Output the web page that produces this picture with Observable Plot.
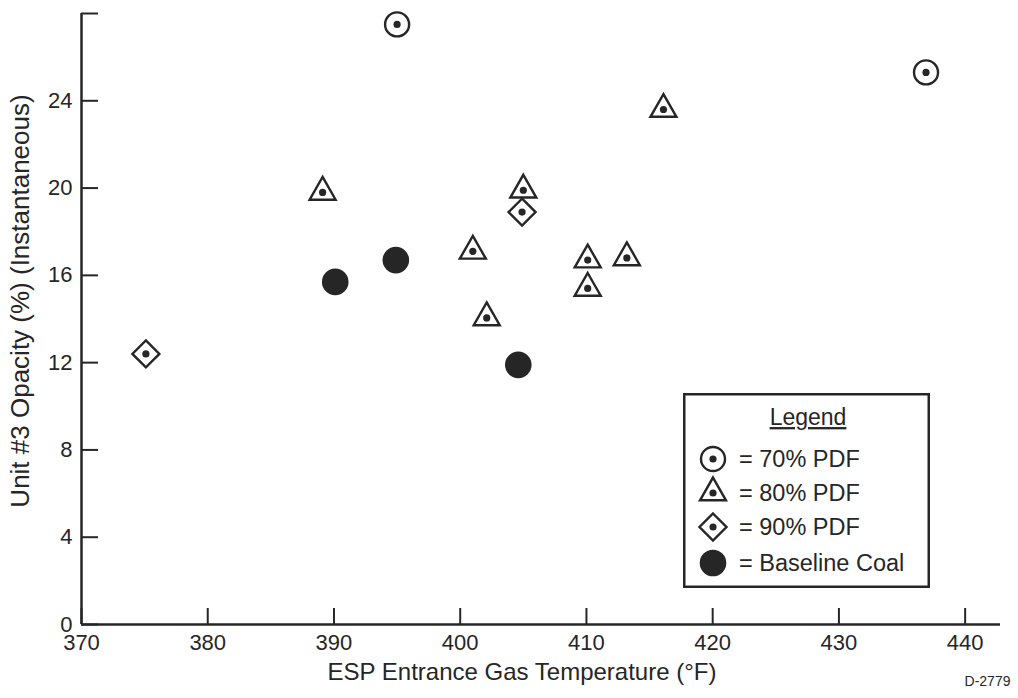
<!DOCTYPE html>
<html>
<head>
<meta charset="utf-8">
<script src="https://cdn.jsdelivr.net/npm/d3@7"></script>
<script src="https://cdn.jsdelivr.net/npm/@observablehq/plot@0.6"></script>
<style>
  html, body { margin: 0; padding: 0; background: #fff; }
  #chart { width: 1018px; height: 698px; position: relative; }
</style>
</head>
<body>
<div id="chart"></div>
<script>
// ---- data ----
const pdf70X = [395.0, 436.9];
const pdf70Y = [27.5, 25.3];
const pdf80X = [389.1, 401.0, 402.1, 405.0, 410.1, 410.1, 413.2, 416.1];
const pdf80Y = [19.8, 17.1, 14.05, 19.9, 16.7, 15.4, 16.8, 23.6];
const pdf90X = [375.1, 404.9];
const pdf90Y = [12.4, 18.9];
const baseX = [390.1, 394.9, 404.6];
const baseY = [15.7, 16.7, 11.9];

const xTicks = [370, 380, 390, 400, 410, 420, 430, 440];
const yTicks = [0, 4, 8, 12, 16, 20, 24, 28];
const yTickLabels = ["0", "4", "8", "12", "16", "20", "24", ""];

const xLabel = "ESP Entrance Gas Temperature (°F)";
const yLabel = "Unit #3 Opacity (%) (Instantaneous)";
const figId = "D-2779";
const legendTitle = "Legend";
const legendLabels = ["= 70% PDF", "= 80% PDF", "= 90% PDF", "= Baseline Coal"];

// ---- build tables ----
const toRows = (xs, ys) => xs.map((x, i) => ({x, y: ys[i]}));
const rows70 = toRows(pdf70X, pdf70Y);
const rows80 = toRows(pdf80X, pdf80Y);
const rows90 = toRows(pdf90X, pdf90Y);
const rowsBase = toRows(baseX, baseY);
const openRows = [...rows70, ...rows80, ...rows90];

// ---- custom symbols ----
const triangleSym = {
  draw(ctx, size) {
    const r = Math.sqrt(size / Math.PI);
    ctx.moveTo(0, -1.19 * r);
    ctx.lineTo(1.0 * r, 0.56 * r);
    ctx.lineTo(-1.0 * r, 0.56 * r);
    ctx.closePath();
  }
};
const diamondSym = {
  draw(ctx, size) {
    const r = Math.sqrt(size / Math.PI);
    ctx.moveTo(0, -r);
    ctx.lineTo(r, 0);
    ctx.lineTo(0, r);
    ctx.lineTo(-r, 0);
    ctx.closePath();
  }
};

const ink = "#262626";
const sw = 2.4;
const font = "'Liberation Sans', Arial, Helvetica, sans-serif";

const plot = Plot.plot({
  width: 1018,
  height: 698,
  marginLeft: 81,
  marginRight: 18,
  marginTop: 13,
  marginBottom: 74,
  x: {domain: [370, 442.8]},
  y: {domain: [0, 28]},
  style: {fontFamily: font, background: "#fff", color: ink},
  marks: [
    Plot.axisX({ticks: xTicks, tickSize: -16, tickPadding: 26, fontSize: 22, strokeWidth: 2, label: null, tickFormat: d => String(d)}),
    Plot.axisY({ticks: yTicks, tickSize: -17, tickPadding: 26, fontSize: 22, strokeWidth: 2, label: null,
      tickFormat: d => yTickLabels[yTicks.indexOf(d)]}),
    Plot.ruleX([370], {stroke: ink, strokeWidth: 2.5}),
    Plot.ruleY([0], {stroke: ink, strokeWidth: 2.5}),
    Plot.dot(rows70, {x: "x", y: "y", r: 12, symbol: "circle", stroke: ink, strokeWidth: sw, fill: "white"}),
    Plot.dot(rows80, {x: "x", y: "y", r: 13, symbol: triangleSym, stroke: ink, strokeWidth: sw, fill: "white"}),
    Plot.dot(rows90, {x: "x", y: "y", r: 13.5, symbol: diamondSym, stroke: ink, strokeWidth: sw, fill: "white"}),
    Plot.dot(openRows, {x: "x", y: "y", r: 3.6, fill: ink, stroke: "none"}),
    Plot.dot(rowsBase, {x: "x", y: "y", r: 13.3, fill: ink, stroke: "none"}),
    Plot.text([xLabel], {frameAnchor: "bottom", textAnchor: "middle", dx: -19, dy: 55, fontSize: 24, fill: ink}),
    Plot.text([yLabel], {frameAnchor: "left", textAnchor: "middle", rotate: -90, dx: -61, dy: -18, fontSize: 26, fill: ink}),
    Plot.text([figId], {frameAnchor: "bottom-right", textAnchor: "middle", dx: -13, dy: 61, fontSize: 14, fill: ink})
  ]
});

document.getElementById("chart").appendChild(plot);

// ---- legend box (inside the plot area) ----
const svg = d3.select(plot);
const lg = svg.append("g").attr("transform", "translate(683,393)");
lg.append("rect").attr("x", 1.25).attr("y", 1.25).attr("width", 244.5).attr("height", 192.5)
  .attr("fill", "white").attr("stroke", ink).attr("stroke-width", 2.5);
lg.append("text").attr("x", 125).attr("y", 24).attr("dy", "0.35em")
  .attr("text-anchor", "middle").attr("font-family", font).attr("font-size", 23)
  .attr("fill", ink).attr("text-decoration", "underline").text(legendTitle);

const rowY = [66, 100, 134, 170];
const symX = 30, txtX = 56;
const legendSyms = [
  {sym: d3.symbolCircle, r: 12, fill: "white", stroke: ink, dot: true},
  {sym: triangleSym, r: 13, fill: "white", stroke: ink, dot: true},
  {sym: diamondSym, r: 13.5, fill: "white", stroke: ink, dot: true},
  {sym: d3.symbolCircle, r: 13.3, fill: ink, stroke: "none", dot: false}
];
legendSyms.forEach((s, i) => {
  const g = lg.append("g").attr("transform", `translate(${symX},${rowY[i]})`);
  g.append("path").attr("d", d3.symbol(s.sym, Math.PI * s.r * s.r)())
    .attr("fill", s.fill).attr("stroke", s.stroke).attr("stroke-width", sw);
  if (s.dot) g.append("circle").attr("r", 3.6).attr("fill", ink);
  lg.append("text").attr("x", txtX).attr("y", rowY[i]).attr("dy", "0.35em")
    .attr("text-anchor", "start")
    .attr("font-family", font).attr("font-size", 23.5).attr("fill", ink).text(legendLabels[i]);
});
</script>
</body>
</html>
